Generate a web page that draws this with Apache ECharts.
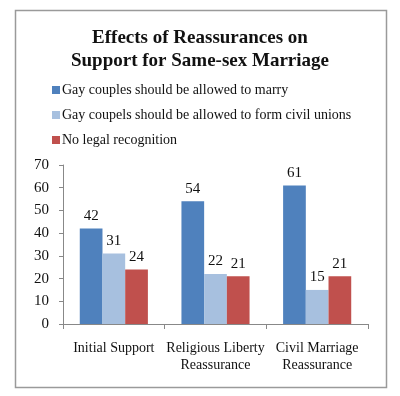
<!DOCTYPE html>
<html><head><meta charset="utf-8">
<script src="https://cdn.jsdelivr.net/npm/echarts@6/dist/echarts.min.js"></script>
<style>html,body{margin:0;padding:0;background:#fff}#c{width:400px;height:396px}</style>
</head><body><div id="c"></div>
<script>
var categories = ['Initial Support', 'Religious Liberty\nReassurance', 'Civil Marriage\nReassurance'];
var seriesNames = ['Gay couples should be allowed to marry', 'Gay coupels should be allowed to form civil unions', 'No legal recognition'];
var marry = [42, 54, 61];
var civilUnions = [31, 22, 15];
var noRecognition = [24, 21, 21];
var yTicks = [0, 10, 20, 30, 40, 50, 60, 70];
var colors = ['#4F81BD', '#A7C0DF', '#C0504D'];
var font = '"Liberation Serif", "DejaVu Serif", serif';
var chart = echarts.init(document.getElementById('c'));
var values = [marry, civilUnions, noRecognition];
chart.setOption({
  animation: false,
  color: colors,
  graphic: [{type:'rect', shape:{x:15.5,y:10.5,width:371,height:377}, style:{fill:'none', stroke:'#9a9a9a', lineWidth:1.5}, silent:true}],
  title: {
    text: 'Effects of Reassurances on\nSupport for Same-sex Marriage',
    left: 'center', top: 22,
    textStyle: {fontFamily: font, fontWeight: 'bold', fontSize: 19, lineHeight: 23, color: '#111'}
  },
  legend: {
    orient: 'vertical', left: 47, top: 78, itemGap: 11,
    itemWidth: 8, itemHeight: 8, icon: 'rect',
    textStyle: {fontFamily: font, fontSize: 14, color: '#111', padding: [0,0,0,-3]},
    data: seriesNames
  },
  grid: {left: 63, right: 32, top: 165, bottom: 72},
  xAxis: {
    type: 'category', data: categories,
    axisLine: {lineStyle: {color: '#888'}},
    axisTick: {show: true, length: 5, lineStyle: {color: '#888'}},
    axisLabel: {fontFamily: font, fontSize: 14, color: '#111', lineHeight: 17, margin: 16, interval: 0}
  },
  yAxis: {
    type: 'value', min: yTicks[0], max: yTicks[yTicks.length-1], interval: 10,
    splitLine: {show: false},
    axisLine: {show: true, lineStyle: {color: '#888'}},
    axisTick: {show: true, length: 4, inside: false, lineStyle: {color: '#888'}},
    axisLabel: {fontFamily: font, fontSize: 15, color: '#111', margin: 14}
  },
  series: seriesNames.map(function(n, i){
    return {
      name: n, type: 'bar', data: values[i],
      barGap: '0%', barCategoryGap: '33%',
      label: {show: true, position: 'top', distance: 5, fontFamily: font, fontSize: 15, color: '#111'}
    };
  })
});
</script></body></html>
